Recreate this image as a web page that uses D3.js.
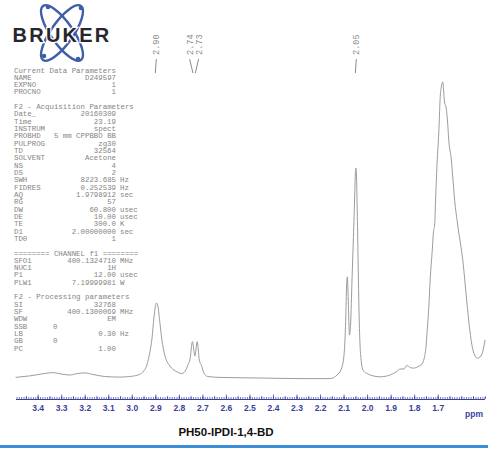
<!DOCTYPE html>
<html>
<head>
<meta charset="utf-8">
<script src="https://cdn.jsdelivr.net/npm/d3@7/dist/d3.min.js"></script>
<style>
  html, body { margin: 0; padding: 0; background: #fff; }
  svg { display: block; }
</style>
</head>
<body>
<svg id="chart" width="488" height="450"></svg>
<script>
// 1H NMR trace: chemical shift (ppm) and relative intensity
const shiftPpm = [
  3.494, 3.434, 3.370, 3.336, 3.298, 3.264, 3.230, 3.200, 3.166, 3.115,
  3.051, 3.009, 2.974, 2.953, 2.936, 2.923, 2.914, 2.906, 2.900, 2.895,
  2.889, 2.881, 2.872, 2.860, 2.838, 2.813, 2.787, 2.770, 2.760, 2.753,
  2.742, 2.734, 2.732, 2.722, 2.713, 2.703, 2.694, 2.677, 2.626, 2.455,
  2.285, 2.157, 2.128, 2.111, 2.098, 2.091, 2.087, 2.084, 2.080, 2.075,
  2.070, 2.064, 2.059, 2.056, 2.053, 2.050, 2.048, 2.046, 2.043, 2.040,
  2.037, 2.034, 2.030, 2.026, 2.021, 2.013, 2.000, 1.979, 1.945, 1.902,
  1.872, 1.860, 1.843, 1.831, 1.817, 1.804, 1.783, 1.767, 1.757, 1.749,
  1.743, 1.739, 1.732, 1.723, 1.718, 1.713, 1.709, 1.702, 1.697, 1.694,
  1.690, 1.683, 1.678, 1.675, 1.671, 1.664, 1.658, 1.653, 1.642, 1.635,
  1.628, 1.615, 1.592, 1.577, 1.562, 1.550, 1.531, 1.520, 1.507, 1.499
];
const intensity = [
  0.2, 0.7, 1.5, 1.8, 1.3, 1.0, 1.5, 1.7, 1.2, 0.5,
  0.3, 0.5, 1.0, 2.0, 4.3, 8.7, 13.3, 20.0, 23.7, 25.0,
  24.0, 18.7, 12.7, 7.7, 4.0, 2.3, 1.5, 2.7, 4.7, 6.0,
  12.1, 8.0, 7.3, 12.1, 6.0, 4.0, 1.7, 0.5, 0.2, 0.0,
  -0.2, -0.2, 1.0, 2.7, 7.7, 19.3, 31.0, 33.7, 26.0, 14.3,
  18.0, 33.0, 45.0, 52.0, 60.0, 68.0, 70.0, 69.0, 60.0, 47.0,
  33.0, 21.0, 11.0, 6.5, 3.5, 2.2, 1.5, 0.8, 0.4, 1.0,
  2.3, 3.0, 3.0, 4.2, 3.5, 3.3, 3.8, 4.7, 6.7, 11.0,
  17.7, 22.0, 32.7, 42.7, 48.7, 51.0, 59.3, 72.7, 79.3, 84.3,
  92.7, 97.7, 98.7, 96.0, 92.0, 90.0, 85.3, 79.3, 72.7, 66.0,
  59.3, 51.0, 38.3, 26.0, 15.0, 9.3, 6.6, 7.0, 9.3, 12.7
];

// Peak picking labels
const peakLabels = ["2.90", "2.74", "2.73", "2.05"];
const peakPpm = [2.90, 2.74, 2.73, 2.05];

// Axis ticks
const tickValues = [3.4, 3.3, 3.2, 3.1, 3.0, 2.9, 2.8, 2.7, 2.6, 2.5, 2.4, 2.3, 2.2, 2.1, 2.0, 1.9, 1.8, 1.7];
const axisUnit = "ppm";
const sampleTitle = "PH50-IPDI-1,4-BD";
const logoText = "BRUKER";

// Acquisition / processing parameter listing: [line, label, value, unit]
const paramHeaders = [
  [0, "Current Data Parameters"],
  [5, "F2 - Acquisition Parameters"],
  [25, "======== CHANNEL f1 ========"],
  [31, "F2 - Processing parameters"]
];
const paramRows = [
  [1, "NAME", "D249597", ""],
  [2, "EXPNO", "1", ""],
  [3, "PROCNO", "1", ""],
  [6, "Date_", "20160309", ""],
  [7, "Time", "23.19", ""],
  [8, "INSTRUM", "spect", ""],
  [9, "PROBHD", "5 mm CPPBBO BB", ""],
  [10, "PULPROG", "zg30", ""],
  [11, "TD", "32564", ""],
  [12, "SOLVENT", "Acetone", ""],
  [13, "NS", "4", ""],
  [14, "DS", "2", ""],
  [15, "SWH", "8223.685", "Hz"],
  [16, "FIDRES", "0.252539", "Hz"],
  [17, "AQ", "1.9798912", "sec"],
  [18, "RG", "57", ""],
  [19, "DW", "60.800", "usec"],
  [20, "DE", "10.00", "usec"],
  [21, "TE", "300.0", "K"],
  [22, "D1", "2.00000000", "sec"],
  [23, "TD0", "1", ""],
  [26, "SFO1", "400.1324710", "MHz"],
  [27, "NUC1", "1H", ""],
  [28, "P1", "12.00", "usec"],
  [29, "PLW1", "7.19999981", "W"],
  [32, "SI", "32768", ""],
  [33, "SF", "400.1300069", "MHz"],
  [34, "WDW", "EM", ""],
  [36, "LB", "0.30", "Hz"],
  [38, "PC", "1.00", ""]
];
const paramShortRows = [
  [35, "SSB", "0"],
  [37, "GB", "0"]
];

const svg = d3.select("#chart");

const x = d3.scaleLinear().domain([3.492, 1.499]).range([16, 485]);
const y = d3.scaleLinear().domain([0, 100]).range([378, 78]);

// ---- Spectrum trace
const pts = shiftPpm.map((p, i) => [p, intensity[i]]);
svg.append("path")
  .datum(pts)
  .attr("fill", "none")
  .attr("stroke", "#9c9c9c")
  .attr("stroke-width", 1)
  .attr("d", d3.line()
    .x(d => x(d[0]))
    .y(d => y(d[1]))
    .curve(d3.curveMonotoneX));

// ---- Ruler axis (ticks pointing up)
const axisY = 399;
const axisColor = "#3a3f9e";
const minorTicks = d3.range(349, 149, -1).map(v => v / 100);
const midTicks = d3.range(345, 149, -5).map(v => v / 100);

const gMinor = svg.append("g").attr("transform", `translate(0,${axisY})`)
  .call(d3.axisBottom(x).tickValues(minorTicks).tickSize(-2).tickFormat(""));
const gMid = svg.append("g").attr("transform", `translate(0,${axisY})`)
  .call(d3.axisBottom(x).tickValues(midTicks).tickSize(-3).tickFormat(""));
const gMajor = svg.append("g").attr("transform", `translate(0,${axisY})`)
  .call(d3.axisBottom(x).tickValues(tickValues).tickSizeInner(-4.5).tickSizeOuter(0)
    .tickPadding(6).tickFormat(d3.format(".1f")));
[gMinor, gMid, gMajor].forEach(g => {
  g.selectAll("path.domain").attr("stroke", axisColor).attr("stroke-width", 1);
  g.selectAll(".tick line").attr("stroke", axisColor).attr("stroke-width", 0.7);
});
gMinor.selectAll("path.domain").remove();
gMid.selectAll("path.domain").remove();
gMajor.select("path.domain").attr("d", `M${x(3.492)},0.5H${x(1.499)}`);
gMajor.selectAll(".tick text")
  .attr("fill", axisColor)
  .attr("font-family", "Liberation Sans, Arial, sans-serif")
  .attr("font-weight", "bold")
  .attr("font-size", 8.5);

svg.append("text")
  .attr("x", 474).attr("y", axisY + 17.5)
  .attr("text-anchor", "middle")
  .attr("fill", axisColor)
  .attr("font-family", "Liberation Sans, Arial, sans-serif")
  .attr("font-weight", "bold")
  .attr("font-size", 8.5)
  .text(axisUnit);

// ---- Sample title
svg.append("text")
  .attr("x", 226).attr("y", 436)
  .attr("text-anchor", "middle")
  .attr("fill", "#111")
  .attr("font-family", "Liberation Sans, Arial, sans-serif")
  .attr("font-weight", "bold")
  .attr("font-size", 11.5)
  .text(sampleTitle);

// ---- Bottom rule
svg.append("rect")
  .attr("x", 0).attr("y", 445).attr("width", 488).attr("height", 3)
  .attr("fill", "#3b8fd8");

// ---- Peak labels (close pairs fan out above their peaks)
const labelSpread = [0, -4.5, 4.5, 0];
const gPeaks = svg.append("g");
peakPpm.forEach((p, i) => {
  const xp = x(p);
  const xl = labelSpread[i] !== 0 ? x(2.735) + labelSpread[i] : xp + 1;
  gPeaks.append("text")
    .attr("transform", `translate(${xl + 3},55) rotate(-90)`)
    .attr("fill", "#8a8a8a")
    .attr("font-family", "Liberation Mono, DejaVu Sans Mono, monospace")
    .attr("font-size", 8.6)
    .text(peakLabels[i]);
  gPeaks.append("path")
    .attr("d", `M${xl},59 L${xp},73`)
    .attr("stroke", "#8a8a8a")
    .attr("stroke-width", 1)
    .attr("fill", "none");
});

// ---- Parameter listing
const lineY0 = 72.5, lineStep = 7.32;
const monoFont = "Liberation Mono, DejaVu Sans Mono, monospace";
const gParams = svg.append("g")
  .attr("font-family", monoFont)
  .attr("font-size", 7.4)
  .attr("fill", "#858585");
paramHeaders.forEach(h => {
  gParams.append("text").attr("x", 14).attr("y", lineY0 + h[0] * lineStep).text(h[1]);
});
paramRows.forEach(r => {
  const yy = lineY0 + r[0] * lineStep;
  gParams.append("text").attr("x", 14).attr("y", yy).text(r[1]);
  gParams.append("text").attr("x", 116).attr("y", yy).attr("text-anchor", "end").text(r[2]);
  if (r[3]) gParams.append("text").attr("x", 120).attr("y", yy).text(r[3]);
});
paramShortRows.forEach(r => {
  const yy = lineY0 + r[0] * lineStep;
  gParams.append("text").attr("x", 14).attr("y", yy).text(r[1]);
  gParams.append("text").attr("x", 53).attr("y", yy).text(r[2]);
});

// ---- Logo: crossed orbits with lettering
const gLogo = svg.append("g");
const cx = 62, cy = 33;
[-55, 55].forEach(a => {
  gLogo.append("ellipse")
    .attr("cx", cx).attr("cy", cy).attr("rx", 33).attr("ry", 11)
    .attr("transform", `rotate(${a},${cx},${cy})`)
    .attr("fill", "none").attr("stroke", "#3f5ea8").attr("stroke-width", 2.4);
});
[[48, 7], [78, 59], [44, 56], [81, 8]].forEach(d => {
  gLogo.append("circle").attr("cx", d[0]).attr("cy", d[1]).attr("r", 2.3).attr("fill", "#3f5ea8");
});
gLogo.append("text")
  .attr("x", 62).attr("y", 42)
  .attr("text-anchor", "middle")
  .attr("font-family", "Liberation Sans, Arial, sans-serif")
  .attr("font-weight", "bold")
  .attr("font-size", 20)
  .attr("letter-spacing", 2.2)
  .attr("fill", "#26262e")
  .attr("stroke", "#fff").attr("stroke-width", 2.5)
  .attr("paint-order", "stroke")
  .text(logoText);
</script>
</body>
</html>
